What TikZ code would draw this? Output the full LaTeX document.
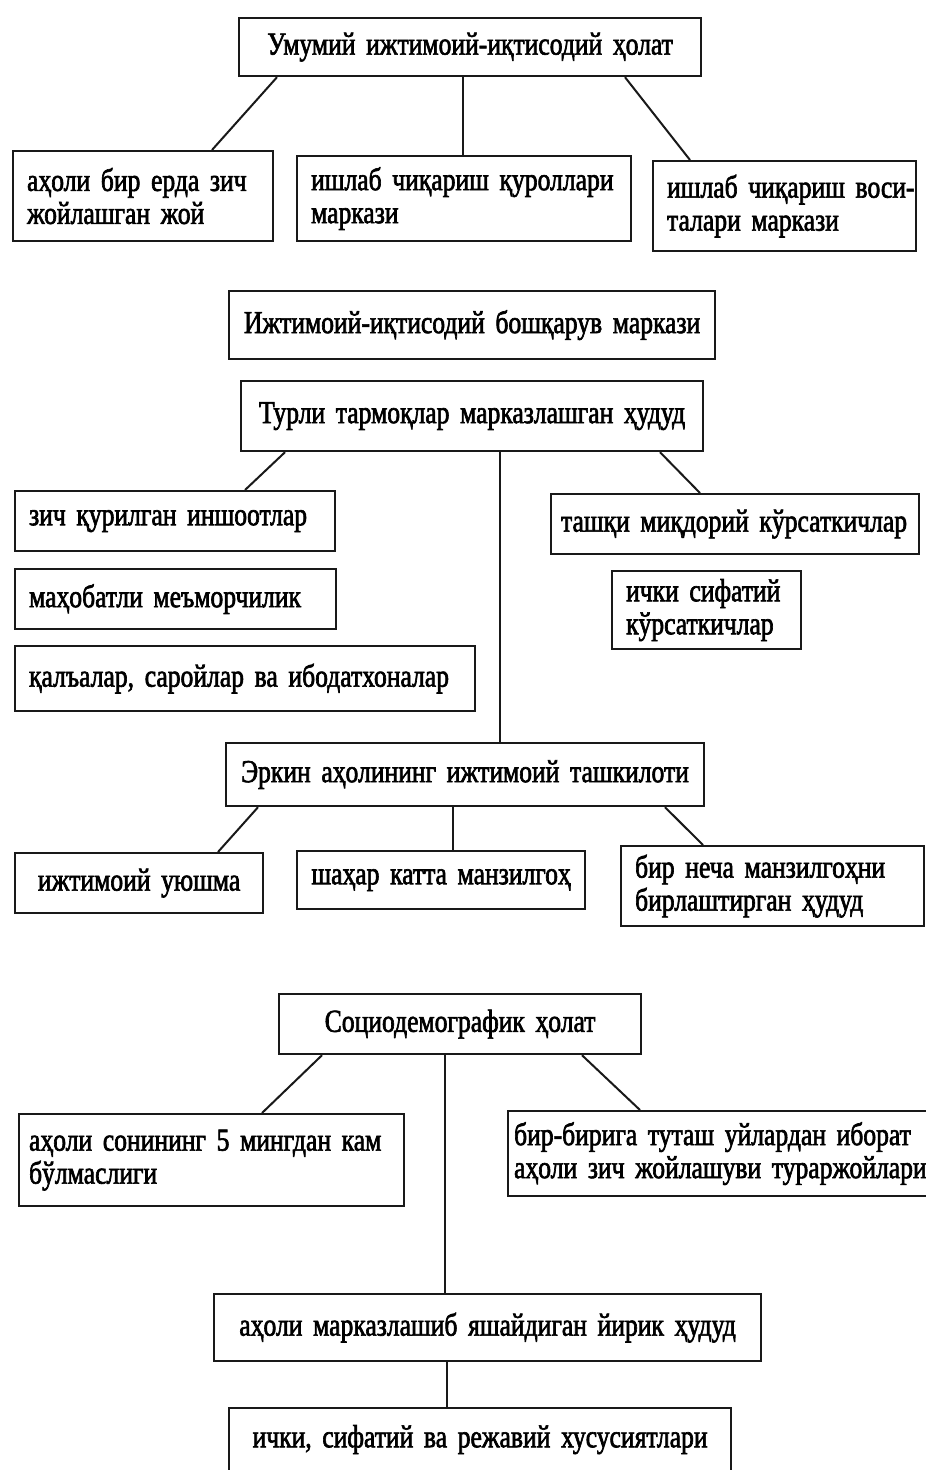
\documentclass[tikz,border=0pt]{standalone}
\usepackage{fontspec}
\setmainfont{Liberation Serif}[FakeStretch=0.8,WordSpace=0.7,FakeBold=2]
\newcommand{\tl}[1]{\mbox{#1}}
\begin{document}
\begin{tikzpicture}[x=1pt,y=-1pt,
  box/.style={draw=black!90, line width=2.2pt, rectangle, anchor=north west, inner xsep=14pt, inner ysep=0pt, font=\fontsize{32}{33}\selectfont},
  conn/.style={draw=black!90, line width=2pt}]
\useasboundingbox (0,0) rectangle (926,1470);
% group 1
\node[box, minimum width=462pt, minimum height=58pt, text width=434pt, align=center] (top) at (238,17) {\tl{Умумий ижтимоий-иқтисодий ҳолат}};
\node[box, minimum width=260pt, minimum height=90pt, text width=232pt, align=left] (a1) at (12,150) {\tl{аҳоли бир ерда зич}\\\tl{жойлашган жой}};
\node[box, minimum width=334pt, minimum height=85pt, text width=306pt, align=left] (a2) at (296,155) {\tl{ишлаб чиқариш қуроллари}\\\tl{маркази}};
\node[box, minimum width=263pt, minimum height=90pt, text width=235pt, align=left] (a3) at (652,160) {\tl{ишлаб чиқариш воси-}\\\tl{талари маркази}};
\draw[conn] ([xshift=39pt]top.south west) -- ([xshift=200pt]a1.north west);
\draw[conn] ([xshift=225pt]top.south west) -- ([xshift=167pt]a2.north west);
\draw[conn] ([xshift=387pt]top.south west) -- ([xshift=38pt]a3.north west);
% group 2
\node[box, minimum width=486pt, minimum height=68pt, text width=458pt, align=center] (b0) at (228,290) {\tl{Ижтимоий-иқтисодий бошқарув маркази}};
\node[box, minimum width=462pt, minimum height=70pt, text width=434pt, align=center] (b1) at (240,380) {\tl{Турли тармоқлар марказлашган ҳудуд}};
\node[box, minimum width=320pt, minimum height=60pt, text width=292pt, align=left] (c1) at (14,490) {\tl{зич қурилган иншоотлар}};
\node[box, minimum width=321pt, minimum height=60pt, text width=293pt, align=left] (c2) at (14,568) {\tl{маҳобатли меъморчилик}};
\node[box, minimum width=460pt, minimum height=65pt, text width=432pt, align=left] (c3) at (14,645) {\tl{қалъалар, саройлар ва ибодатхоналар}};
\node[box, minimum width=368pt, minimum height=60pt, inner xsep=10pt, text width=348pt, align=left] (c4) at (550,493) {\tl{ташқи миқдорий кўрсаткичлар}};
\node[box, minimum width=189pt, minimum height=78pt, text width=161pt, align=left] (c5) at (611,570) {\tl{ички сифатий}\\\tl{кўрсаткичлар}};
\draw[conn] ([xshift=45pt]b1.south west) -- ([xshift=231pt]c1.north west);
\draw[conn] ([xshift=420pt]b1.south west) -- ([xshift=150pt]c4.north west);
% group 3
\node[box, minimum width=478pt, minimum height=63pt, text width=450pt, align=center] (d0) at (225,742) {\tl{Эркин аҳолининг ижтимоий ташкилоти}};
\node[box, minimum width=248pt, minimum height=60pt, text width=220pt, align=center] (d1) at (14,852) {\tl{ижтимоий уюшма}};
\node[box, minimum width=288pt, minimum height=58pt, text width=260pt, align=center] (d2) at (296,850) {\tl{шаҳар катта манзилгоҳ}};
\node[box, minimum width=303pt, minimum height=80pt, text width=275pt, align=left] (d3) at (620,845) {\tl{бир неча манзилгоҳни}\\\tl{бирлаштирган ҳудуд}};
\draw[conn] ([xshift=260pt]b1.south west) -- ([xshift=275pt]d0.north west);
\draw[conn] ([xshift=33pt]d0.south west) -- ([xshift=204pt]d1.north west);
\draw[conn] ([xshift=228pt]d0.south west) -- ([xshift=157pt]d2.north west);
\draw[conn] ([xshift=440pt]d0.south west) -- ([xshift=83pt]d3.north west);
% group 4
\node[box, minimum width=362pt, minimum height=60pt, text width=334pt, align=center] (e0) at (278,993) {\tl{Социодемографик ҳолат}};
\node[box, minimum width=385pt, minimum height=92pt, inner xsep=10pt, text width=365pt, align=left] (e1) at (18,1113) {\tl{аҳоли сонининг 5 мингдан кам}\\\tl{бўлмаслиги}};
\node[box, minimum width=419pt, minimum height=85pt, inner xsep=6pt, text width=407pt, align=left] (e2) at (507,1110) {\tl{бир-бирига туташ уйлардан иборат}\\\tl{аҳоли зич жойлашуви тураржойлари}};
\node[box, minimum width=547pt, minimum height=67pt, text width=519pt, align=center] (e3) at (213,1293) {\tl{аҳоли марказлашиб яшайдиган йирик ҳудуд}};
\node[box, minimum width=502pt, minimum height=63pt, text width=474pt, align=center] (e4) at (228,1407) {\tl{ички, сифатий ва режавий хусусиятлари}};
\draw[conn] ([xshift=44pt]e0.south west) -- ([xshift=244pt]e1.north west);
\draw[conn] ([xshift=167pt]e0.south west) -- ([xshift=232pt]e3.north west);
\draw[conn] ([xshift=304pt]e0.south west) -- ([xshift=133pt]e2.north west);
\draw[conn] ([xshift=234pt]e3.south west) -- ([xshift=219pt]e4.north west);
\end{tikzpicture}
\end{document}
